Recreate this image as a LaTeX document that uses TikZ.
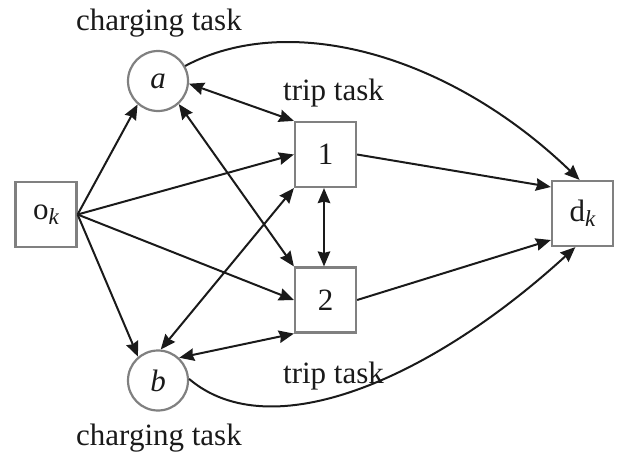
\documentclass[tikz,border=0pt]{standalone}
\usepackage{fontspec}
\setmainfont{Liberation Serif}
\usetikzlibrary{arrows.meta}
\definecolor{boxgray}{HTML}{808080}
\definecolor{ink}{HTML}{1A1A1A}
\newcommand{\subk}{\raisebox{-5pt}{\fontsize{23}{23}\selectfont\itshape k}}
\begin{document}
\begin{tikzpicture}[x=1pt,y=-1pt,
  every node/.style={font=\fontsize{31}{31}\selectfont, text=ink},
  boxnode/.style={draw=boxgray, line width=2.2pt, fill=white, minimum width=61pt, minimum height=65pt, inner sep=0pt},
  circnode/.style={circle, draw=boxgray, line width=2.2pt, fill=white, minimum size=60pt, inner sep=0pt},
  lbl/.style={anchor=base},
  conn/.style={draw=ink, line width=2pt, -{Stealth[length=15pt,width=12.5pt,inset=1.5pt]}},
  bconn/.style={draw=ink, line width=2pt, {Stealth[length=15pt,width=12.5pt,inset=1.5pt]}-{Stealth[length=15pt,width=12.5pt,inset=1.5pt]}}
  ]
\useasboundingbox (0,0) rectangle (622,453);
% nodes
\node[boxnode] (ok) at (46,214.5) {o\subk};
\node[circnode] (a) at (158,81) {\itshape a};
\node[circnode] (b) at (158,380.5) {\itshape b};
\node[boxnode] (n1) at (325.5,154.5) {1};
\node[boxnode] (n2) at (325.5,300) {2};
\node[boxnode] (dk) at (582.5,213.5) {d\subk};
% labels
\node[lbl] (la) at (159,30) {charging task};
\node[lbl] (lb) at (159,445) {charging task};
\node[lbl] (l1) at (333.5,100) {trip task};
\node[lbl] (l2) at (333.5,383) {trip task};
% connectors
\coordinate (oe) at (ok.east);
\draw[conn] (oe) -- (a.229);
\draw[conn] (oe) -- (b.130);
\draw[conn] (oe) -- (n1.west);
\draw[conn] (oe) -- (n2.west);
\draw[bconn] (a.-5) -- (n1.north west);
\draw[bconn] (a.-48) -- (n2.north west);
\draw[bconn] (b.85) -- (n1.south west);
\draw[bconn] (b.47) -- (n2.south west);
\draw[bconn] ([xshift=-1.5pt]n1.south) -- ([xshift=-1.5pt]n2.north);
\draw[conn] (n1.east) -- (dk.140);
\draw[conn] (n2.east) -- (dk.220);
\draw[conn] (a.29) .. controls (290,10) and (450,55) .. (dk.95);
\draw[conn] (b.3) .. controls (270,448) and (430,380) .. (dk.258);
\end{tikzpicture}
\end{document}
